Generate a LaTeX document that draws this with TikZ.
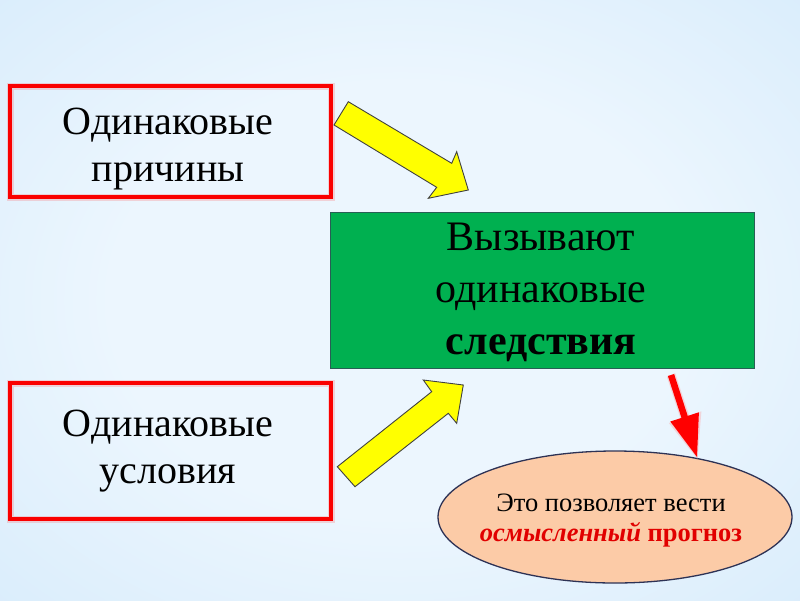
\documentclass[tikz,border=0pt]{standalone}
\usepackage{fontspec}
\setmainfont{Liberation Serif}
\usetikzlibrary{shapes.geometric}
\definecolor{bgA}{RGB}{236,246,254}
\definecolor{bgB}{RGB}{214,235,251}
\definecolor{bgC}{RGB}{165,210,244}
\definecolor{boxred}{RGB}{250,0,0}
\definecolor{boxgreen}{RGB}{0,176,80}
\definecolor{greenedge}{RGB}{40,95,85}
\definecolor{peach}{RGB}{252,203,167}
\definecolor{navy}{RGB}{45,50,85}
\definecolor{arrowyellow}{RGB}{255,255,0}
\definecolor{txtred}{RGB}{225,0,0}
\pgfdeclareradialshading{bgshade}{\pgfpoint{0bp}{0bp}}{color(0bp)=(bgA); color(18bp)=(bgA); color(40bp)=(bgB); color(60bp)=(bgC); color(72bp)=(bgC)}
\tikzset{
  redbox/.style={draw=boxred, line width=4pt, inner sep=0pt},
  glow/.style={draw=boxred!60, line width=7pt, opacity=0.25, inner sep=0pt},
  bigtxt/.style={align=center, font=\fontsize{40}{47}\selectfont, text=black, inner sep=0pt},
  greentxt/.style={align=center, font=\fontsize{42}{52}\selectfont, text=black, inner sep=0pt},
  smalltxt/.style={align=center, font=\fontsize{26.5}{30}\selectfont, text=black, inner sep=0pt},
  yarrow/.style={fill=arrowyellow, draw=black!75, line width=0.9pt, line join=miter},
  rarrow/.style={fill=red, draw=none},
}
\begin{document}
\begin{tikzpicture}[x=1pt,y=-1pt]
\useasboundingbox (0,0) rectangle (800,600);
\shade[shading=bgshade] (0,0) rectangle (800,600);

% red boxes
\node[glow, minimum width=321pt, minimum height=111pt] at (170.5,141.5) {};
\node[redbox, minimum width=321pt, minimum height=111pt] (b1) at (170.5,141.5) {};
\node[bigtxt] (t1) at (168,149) {Одинаковые\\причины};

\node[glow, minimum width=321pt, minimum height=136pt] at (170.5,451) {};
\node[redbox, minimum width=321pt, minimum height=136pt] (b2) at (170.5,451) {};
\node[bigtxt] (t2) at (168,451) {Одинаковые\\условия};

% green box
\node[fill=boxgreen, draw=greenedge, line width=1.5pt, minimum width=424pt, minimum height=156pt, inner sep=0pt] (g) at (542.5,290.5) {};
\node[greentxt] (gt) at (541,292) {Вызывают\\одинаковые\\\textbf{следствия}};

% ellipse
\node[ellipse, draw=navy, fill=peach, line width=1.3pt, minimum width=354pt, minimum height=132pt, inner sep=0pt] (e) at (615,517) {};
\node[smalltxt] (et) at (611,521) {Это позволяет вести\\\textcolor{txtred}{\textbf{\textit{осмысленный}} \textbf{прогноз}}};

% yellow arrows
\draw[yarrow] (348.3,101.7) -- (451.7,163.3) -- (456.7,151.7) -- (468.3,190) -- (428.3,198.3) -- (436.7,187.3) -- (334,125) -- cycle;
\draw[yarrow] (337.3,466.7) -- (431.7,391.7) -- (423.3,380) -- (463.3,385) -- (456.7,423.3) -- (448.3,413.3) -- (355,486.7) -- cycle;

% red arrow
\fill[red!40, opacity=0.35] (666.9,377) -- (675.1,373) -- (689.2,415.5) -- (701.4,411.3) -- (697.5,459) -- (668.8,423) -- (680.5,418.8) -- cycle;
\fill[rarrow] (667.9,376) -- (674.1,374) -- (687.7,415.9) -- (698.9,412.3) -- (697,457) -- (670.3,421.5) -- (681.5,417.9) -- cycle;
\end{tikzpicture}
\end{document}
